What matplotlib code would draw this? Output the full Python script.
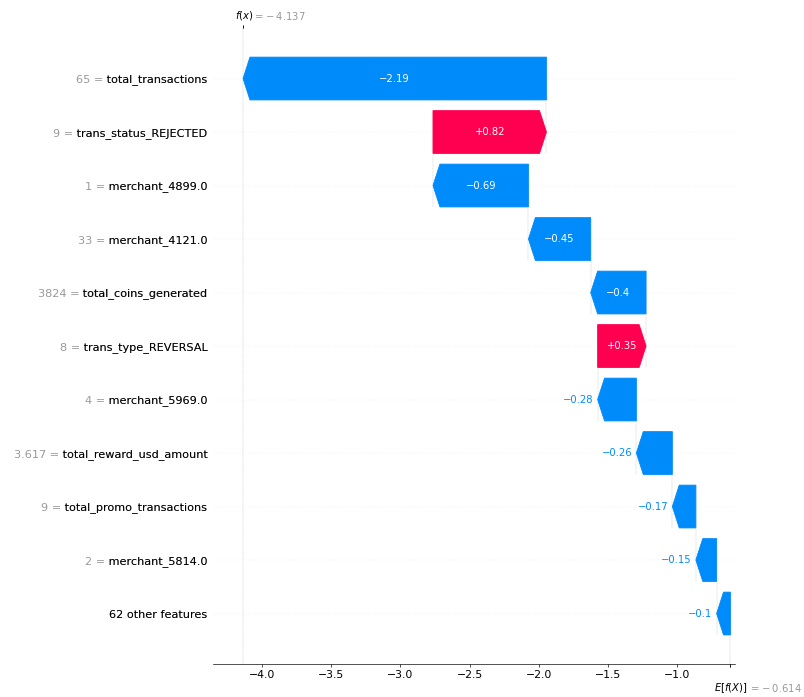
import re

import numpy as np
import matplotlib.pyplot as plt
from matplotlib.transforms import ScaledTranslation

# feature rows, listed top to bottom
feature_names = ["total_transactions", "trans_status_REJECTED", "merchant_4899.0",
                 "merchant_4121.0", "total_coins_generated", "trans_type_REVERSAL",
                 "merchant_5969.0", "total_reward_usd_amount", "total_promo_transactions",
                 "merchant_5814.0"]
feature_values = ["65", "9", "1", "33", "3824", "8", "4", "3.617", "9", "2"]
contributions = [-2.193, 0.82, -0.69, -0.45, -0.40, 0.35, -0.28, -0.26, -0.17, -0.15]
rest_label = "62 other features"
rest_contribution = -0.10
base_value = -0.614

red = "#ff0051"
blue = "#008bfb"


def fmt(v, spec, minus="\u2212"):
    s = re.sub(r"\.?0+$", "", spec % v)
    return s.replace("-", minus)


# rows are numbered bottom-up, the grouped remainder sits at row 0
row_vals = np.array([rest_contribution] + contributions[::-1])
row_labels = [rest_label] + [f"{v} = {n}" for v, n in zip(feature_values, feature_names)][::-1]
n_rows = len(row_vals)
starts = base_value + np.concatenate([[0.0], np.cumsum(row_vals)[:-1]])
ends = starts + row_vals
fx = ends[-1]

fig = plt.figure(figsize=(13.4, 697 / 60), dpi=60)
ax = fig.add_axes([0.2653, 0.0476, 0.9142 - 0.2653, 0.9595 - 0.0476])
ax.set_xlim(-4.352, -0.581)
ax.set_ylim(-0.94, n_rows - 0.06)

# arrow head length in data units
head_len = 0.115
bbox = ax.get_window_extent().transformed(fig.dpi_scale_trans.inverted())
x_per_inch = (ax.get_xlim()[1] - ax.get_xlim()[0]) / bbox.width
hl = head_len * x_per_inch
head_px = head_len * fig.dpi
renderer = fig.canvas.get_renderer()

for row in range(n_rows):
    v = row_vals[row]
    dist = abs(v)
    sign = 1 if v >= 0 else -1
    color = red if v >= 0 else blue
    arrow = ax.arrow(starts[row], row, sign * max(dist - hl, 1e-6), 0,
                     head_length=min(dist, hl), width=0.8, head_width=0.8,
                     color=color)
    label = fmt(v, "%+0.02f")
    txt = ax.text(starts[row] + 0.5 * v, row, label, ha="center", va="center",
                  color="white", fontsize=12)
    # move the value outside when it does not fit comfortably in the arrow
    text_w = txt.get_window_extent(renderer).width
    if text_w + 2 * head_px > arrow.get_window_extent(renderer).width:
        txt.remove()
        ax.text(ends[row] + sign * (5 / 72) * x_per_inch, row, label,
                ha="left" if v >= 0 else "right", va="center", color=color, fontsize=12)

    # connector from the previous row
    if row > 0:
        ax.plot([starts[row], starts[row]], [row - 1 - 0.4, row + 0.4],
                color="#bbbbbb", linestyle="--", linewidth=0.5, zorder=-1)
    ax.axhline(row, color="#cccccc", lw=0.5, dashes=(1, 5), zorder=-1)

# gray "value = name" labels with the names redrawn on top in black
ytick_pos = list(range(n_rows)) + list(np.arange(n_rows) + 1e-8)
ax.set_yticks(ytick_pos, row_labels + [l.split("=")[-1] for l in row_labels], fontsize=13.5)
for t in ax.yaxis.get_majorticklabels()[:n_rows]:
    t.set_color("#999999")

ax.axvline(base_value, 0, 1 / n_rows, color="#bbbbbb", linestyle="--", linewidth=0.5, zorder=-1)
ax.axvline(fx, 0, 1, color="#bbbbbb", linestyle="--", linewidth=0.5, zorder=-1)

ax.yaxis.set_ticks_position("none")
for side in ["right", "top", "left"]:
    ax.spines[side].set_visible(False)
ax.tick_params(axis="x", labelsize=13)

xmin, xmax = ax.get_xlim()

# expected value mark at the bottom
ax2 = ax.twiny()
ax2.set_xlim(xmin, xmax)
ax2.xaxis.tick_bottom()
ax2.set_xticks([base_value, base_value + 1e-8],
               ["\n$E[f(X)]$", "\n$ = " + fmt(base_value, "%0.03f", "-\\:") + "$"],
               fontsize=12, ha="left")
for side in ax2.spines:
    ax2.spines[side].set_visible(False)
labels = ax2.xaxis.get_majorticklabels()
labels[0].set_transform(labels[0].get_transform() + ScaledTranslation(-20 / 72, 0, fig.dpi_scale_trans))
labels[1].set_transform(labels[1].get_transform() + ScaledTranslation(22 / 72, -1 / 72, fig.dpi_scale_trans))
labels[1].set_color("#999999")

# model output mark at the top
ax3 = ax.twiny()
ax3.set_xlim(xmin, xmax)
ax3.set_xticks([fx, fx + 1e-8], ["$f(x)$", "$ = " + fmt(fx, "%0.03f", "-\\:") + "$"],
               fontsize=12, ha="left")
for side in ax3.spines:
    ax3.spines[side].set_visible(False)
labels = ax3.xaxis.get_majorticklabels()
labels[0].set_transform(labels[0].get_transform() + ScaledTranslation(-10 / 72, 0, fig.dpi_scale_trans))
labels[1].set_transform(labels[1].get_transform() + ScaledTranslation(12 / 72, 0, fig.dpi_scale_trans))
labels[1].set_color("#999999")

fig.savefig("out.png", dpi=60)
